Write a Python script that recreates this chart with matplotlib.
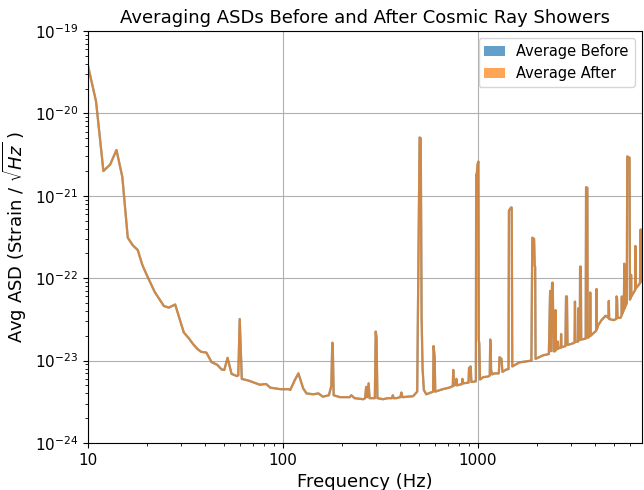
import matplotlib.pyplot as plt
from matplotlib.patches import Patch

# frequency (Hz) and average ASD values
freqs = [10, 11, 12, 13, 14, 15, 16, 17, 18, 19, 20, 22, 24.5, 26, 28, 31, 33, 34.5, 36.5, 38,
         40.5, 43, 46, 48.5, 50, 52, 54.5, 58, 59, 60, 61.5, 67, 76, 82, 86, 97, 107, 109, 115, 120,
         127, 132, 143, 152, 160, 172, 177, 179, 180, 182, 196, 220, 224, 233, 258, 264, 267, 270, 275, 278,
         296, 299, 302, 305, 326, 345, 362, 366, 370, 381, 400, 405, 410, 465, 488, 494, 502, 509, 514, 520,
         528, 543, 575, 589, 592, 600, 604, 660, 713, 743, 747, 752, 772, 775, 780, 828, 832, 838, 895, 900,
         918, 925, 970, 976, 979, 984, 995, 1005, 1010, 1016, 1025, 1065, 1127, 1150, 1156, 1162, 1168, 1180, 1218, 1280,
         1290, 1320, 1335, 1400, 1435, 1442, 1478, 1490, 1500, 1630, 1880, 1900, 1940, 1955, 1965, 1975, 2160, 2310,
         2345, 2360, 2400, 2420, 2440, 2490, 2500, 2510, 2560, 2570, 2580, 2660, 2670, 2680, 2810, 2830, 2860, 2880,
         3020, 3130, 3145, 3160, 3260, 3270, 3285, 3330, 3340, 3370, 3385, 3570, 3585, 3640, 3655, 3681, 3755, 3765,
         3780, 3898, 4040, 4057, 4075, 4140, 4303, 4517, 4670, 4690, 4710, 4960, 5120, 5140, 5170, 5200, 5374, 5450,
         5470, 5490, 5600, 5630, 5660, 5690, 5800, 5830, 5990, 6020, 6080, 6100, 6120, 6399, 6420, 6450, 6776, 6830,
         6860, 6935]

asd_before = [3.8e-20, 1.4e-20, 2.0e-21, 2.4e-21, 3.6e-21, 1.7e-21, 3.1e-22, 2.5e-22, 2.2e-22, 1.45e-22,
              1.1e-22, 6.8e-23, 4.6e-23, 4.4e-23, 4.8e-23, 2.2e-23, 1.85e-23, 1.6e-23, 1.38e-23, 1.28e-23,
              1.25e-23, 9.6e-24, 8.9e-24, 7.8e-24, 7.7e-24, 1.08e-23, 6.9e-24, 6.5e-24, 6.6e-24, 3.2e-23,
              6.0e-24, 5.7e-24, 5.1e-24, 5.2e-24, 4.7e-24, 4.5e-24, 4.5e-24, 4.4e-24, 5.8e-24, 7.0e-24,
              4.6e-24, 4.0e-24, 3.9e-24, 4.0e-24, 3.65e-24, 3.8e-24, 4.9e-24, 1.65e-23, 1.6e-23, 3.8e-24,
              3.6e-24, 3.6e-24, 3.8e-24, 3.5e-24, 3.4e-24, 3.5e-24, 4.8e-24, 3.6e-24, 5.3e-24, 3.5e-24,
              3.5e-24, 2.25e-23, 1.9e-23, 3.5e-24, 3.4e-24, 3.5e-24, 3.5e-24, 3.8e-24, 3.5e-24, 3.5e-24,
              3.6e-24, 4.1e-24, 3.6e-24, 3.7e-24, 4.2e-24, 8.7e-23, 5.1e-21, 5.0e-21, 3.4e-23, 8.0e-24,
              4.4e-24, 3.9e-24, 4.1e-24, 4.2e-24, 1.5e-23, 1.1e-23, 4.2e-24, 4.5e-24, 4.7e-24, 4.9e-24,
              7.7e-24, 5.0e-24, 5.1e-24, 6.0e-24, 5.0e-24, 5.2e-24, 6.0e-24, 5.3e-24, 5.4e-24, 8.1e-24,
              8.5e-24, 5.5e-24, 5.6e-24, 5.6e-24, 1.8e-21, 1.7e-21, 2.4e-21, 2.6e-21, 1.8e-23, 1.6e-23,
              5.9e-24, 6.3e-24, 6.4e-24, 6.6e-24, 1.8e-23, 1.6e-23, 7.7e-24, 6.8e-24, 7.0e-24, 7.0e-24,
              1.1e-23, 1.05e-23, 7.3e-24, 7.8e-24, 7.9e-24, 6.6e-22, 7.2e-22, 7.2e-22, 8.5e-24, 9.5e-24,
              1.0e-23, 3.1e-22, 3.0e-22, 1.4e-22, 1.38e-22, 1.05e-23, 1.16e-23, 1.2e-23, 7.0e-23, 1.3e-23,
              8.8e-23, 8.8e-23, 1.3e-23, 1.3e-23, 4.1e-23, 1.35e-23, 1.4e-23, 1.7e-23, 1.4e-23, 1.45e-23,
              2.1e-23, 1.45e-23, 1.5e-23, 6.0e-23, 6.0e-23, 1.55e-23, 1.6e-23, 1.65e-23, 5.2e-23, 1.7e-23,
              1.7e-23, 4.3e-23, 1.75e-23, 1.8e-23, 1.38e-22, 1.38e-22, 1.8e-23, 1.85e-23, 1.27e-21, 1.25e-21,
              1.9e-23, 1.9e-23, 2.0e-23, 6.7e-23, 2.0e-23, 2.14e-23, 2.3e-23, 7.4e-23, 2.4e-23, 2.7e-23,
              3.1e-23, 3.5e-23, 3.3e-23, 5.3e-23, 3.2e-23, 3.1e-23, 3.2e-23, 6.0e-23, 5.6e-23, 3.3e-23,
              3.3e-23, 3.5e-23, 6.0e-23, 3.7e-23, 4.1e-23, 1.5e-22, 4.3e-23, 4.5e-23, 5.0e-23, 3.0e-21,
              2.9e-21, 5.5e-23, 5.8e-23, 1.1e-22, 6.0e-23, 7.2e-23, 2.46e-22, 7.5e-23, 8.7e-23, 3.9e-22,
              9.0e-23, 9.5e-23]

# after-shower average is indistinguishable from the before curve at this scale
asd_after = list(asd_before)

fig = plt.figure(figsize=(6.44, 4.90), dpi=100)
ax = fig.add_axes([0.1366, 0.0959, 0.8602, 0.8408])

ax.plot(freqs, asd_before, color='C0', alpha=0.7, lw=1.6)
ax.plot(freqs, asd_after, color='C1', alpha=0.7, lw=1.6)

ax.set_xscale('log')
ax.set_yscale('log')
ax.set_xlim(10, 6935)
ax.set_ylim(1e-24, 1e-19)
ax.grid(True, which='major')
ax.xaxis.set_major_formatter(plt.FuncFormatter(lambda v, p: f'{v:g}'))

ax.set_title('Averaging ASDs Before and After Cosmic Ray Showers', fontsize=13)
ax.set_xlabel('Frequency (Hz)', fontsize=13)
ax.set_ylabel(r'Avg ASD (Strain / $\sqrt{Hz}$ )', fontsize=13)
ax.tick_params(labelsize=11)

handles = [Patch(facecolor='C0', alpha=0.7, label='Average Before'),
           Patch(facecolor='C1', alpha=0.7, label='Average After')]
ax.legend(handles=handles, loc='upper right', fontsize=10.5, handlelength=1.4)

fig.savefig('out.png')
